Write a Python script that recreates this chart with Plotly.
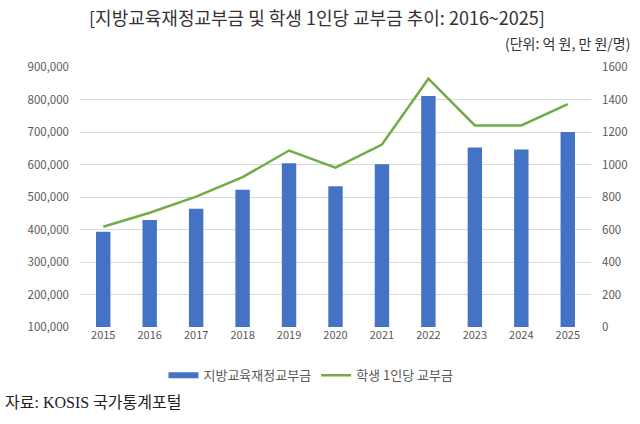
import plotly.graph_objects as go

years = ["2015", "2016", "2017", "2018", "2019", "2020", "2021", "2022", "2023", "2024", "2025"]
grant_total = [393000, 429000, 464000, 522000, 604000, 533000, 601000, 811000, 652000, 646000, 700000]
grant_per_student = [617, 703, 802, 922, 1086, 981, 1123, 1528, 1240, 1240, 1372]

left_ticks = [100000, 200000, 300000, 400000, 500000, 600000, 700000, 800000, 900000]
right_ticks = [0, 200, 400, 600, 800, 1000, 1200, 1400, 1600]

FONT = "Noto Sans CJK KR, Noto Sans, sans-serif"
GRAY = "#595959"
BLUE = "#4472C4"
GREEN = "#70AD47"

fig = go.Figure()
fig.add_trace(go.Bar(
    x=years, y=grant_total, name="지방교육재정교부금",
    marker=dict(color=BLUE, line=dict(width=0)), width=0.31,
    yaxis="y", showlegend=False,
))
# legend proxy for the bars (wide flat rectangle like the reference)
fig.add_trace(go.Scatter(
    x=[None], y=[None], name="지방교육재정교부금", mode="lines",
    line=dict(color=BLUE, width=6), yaxis="y", legendrank=1,
))
fig.add_trace(go.Scatter(
    x=years, y=grant_per_student, name="학생 1인당 교부금",
    mode="lines", line=dict(color=GREEN, width=2.5),
    yaxis="y2", legendrank=2,
))

fig.update_layout(
    width=640, height=424,
    margin=dict(l=80, r=43, t=67, b=97),
    paper_bgcolor="white", plot_bgcolor="white",
    font=dict(family=FONT, size=11, color=GRAY),
    showlegend=True,
    legend=dict(orientation="h", x=0.452, y=-0.186, xanchor="center", yanchor="middle",
                font=dict(size=13, color=GRAY), bgcolor="rgba(0,0,0,0)",
                itemwidth=30, tracegroupgap=0),
    xaxis=dict(type="category", showgrid=False, showline=False, ticks="",
               tickfont=dict(size=11, color=GRAY)),
    yaxis=dict(range=[100000, 900000], tickvals=left_ticks, tickformat=",",
               showgrid=True, gridcolor="#D9D9D9", gridwidth=1, zeroline=False,
               ticks="", ticklabelstandoff=10, tickfont=dict(size=11.5, color=GRAY)),
    yaxis2=dict(range=[0, 1600], tickvals=right_ticks, overlaying="y", side="right",
                showgrid=False, zeroline=False, ticks="", ticklabelstandoff=10,
                tickfont=dict(size=11.5, color=GRAY)),
)

fig.add_annotation(text="[지방교육재정교부금 및 학생 1인당 교부금 추이: 2016~2025]",
                   xref="paper", yref="paper", x=(320 - 80) / 517, y=1 + (67 - 17) / 259.4,
                   xanchor="center", yanchor="middle", showarrow=False,
                   font=dict(size=18, color="#333333", family=FONT))
fig.add_annotation(text="(단위: 억 원, 만 원/명)",
                   xref="paper", yref="paper", x=(638 - 80) / 517, y=1 + (67 - 43) / 259.4,
                   xanchor="right", yanchor="middle", showarrow=False,
                   font=dict(size=14, color="#333333", family=FONT))
fig.add_annotation(text="자료: KOSIS 국가통계포털",
                   xref="paper", yref="paper", x=(2 - 80) / 517, y=-(402 - 326.7) / 259.4,
                   xanchor="left", yanchor="middle", showarrow=False,
                   font=dict(size=16, color="#222222", family="Liberation Serif, Noto Sans CJK KR, serif"))

fig.write_html("out.html")
